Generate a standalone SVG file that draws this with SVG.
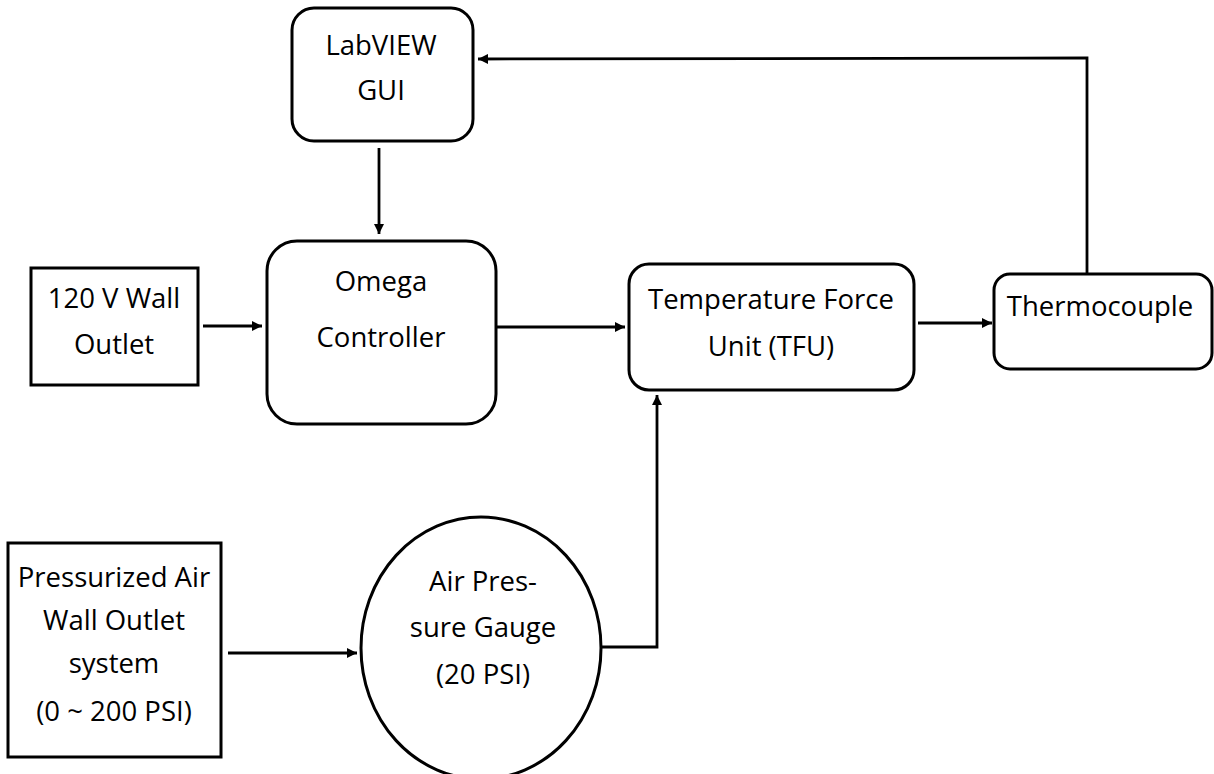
<svg xmlns="http://www.w3.org/2000/svg" width="1214" height="774" viewBox="0 0 1214 774">
<style>
.box{fill:#fff;stroke:#000;stroke-width:3}
.lbl{font-family:"Open Sans","Liberation Sans",sans-serif;font-size:27.5px;fill:#000;text-anchor:middle}
.conn{fill:none;stroke:#000;stroke-width:2.8}
</style>
<defs>
<marker id="arr" viewBox="0 0 10 10" refX="10" refY="5" markerWidth="12" markerHeight="10" markerUnits="userSpaceOnUse" orient="auto">
<path d="M0,0 L10,5 L0,10 z" fill="#000"/>
</marker>
</defs>
<rect width="1214" height="774" fill="#fff"/>
<g id="connectors">
<line class="conn" x1="379" y1="148" x2="379" y2="234" marker-end="url(#arr)"/>
<line class="conn" x1="203" y1="326" x2="262" y2="326" marker-end="url(#arr)"/>
<line class="conn" x1="497" y1="327" x2="625" y2="327" marker-end="url(#arr)"/>
<line class="conn" x1="918" y1="323" x2="992" y2="323" marker-end="url(#arr)"/>
<polyline class="conn" points="1087,273 1087,58 478,59" marker-end="url(#arr)"/>
<line class="conn" x1="228" y1="653" x2="357" y2="653" marker-end="url(#arr)"/>
<polyline class="conn" points="602,647 657,647 657,395" marker-end="url(#arr)"/>
</g>
<g id="labview">
<rect class="box" x="292" y="8" width="181" height="133" rx="22"/>
<text class="lbl" x="381" y="55">LabVIEW</text>
<text class="lbl" x="381" y="100">GUI</text>
</g>
<g id="omega">
<rect class="box" x="267" y="241" width="229" height="183" rx="30"/>
<text class="lbl" x="381" y="291">Omega</text>
<text class="lbl" x="381" y="347">Controller</text>
</g>
<g id="wall120">
<rect class="box" x="31" y="268" width="167" height="117"/>
<text class="lbl" x="114" y="308">120 V Wall</text>
<text class="lbl" x="114" y="354">Outlet</text>
</g>
<g id="tfu">
<rect class="box" x="629" y="264" width="285" height="126" rx="20"/>
<text class="lbl" x="771" y="309">Temperature Force</text>
<text class="lbl" x="771" y="356">Unit (TFU)</text>
</g>
<g id="thermocouple">
<rect class="box" x="994" y="274" width="218" height="95" rx="16"/>
<text class="lbl" x="1100" y="316">Thermocouple</text>
</g>
<g id="pressurized">
<rect class="box" x="8" y="543" width="213" height="214"/>
<text class="lbl" x="114" y="587">Pressurized Air</text>
<text class="lbl" x="114" y="630">Wall Outlet</text>
<text class="lbl" x="114" y="673">system</text>
<text class="lbl" x="114" y="721">(0 ~ 200 PSI)</text>
</g>
<g id="gauge">
<ellipse class="box" cx="481" cy="648" rx="120" ry="131"/>
<text class="lbl" x="483" y="591">Air Pres-</text>
<text class="lbl" x="483" y="637">sure Gauge</text>
<text class="lbl" x="483" y="684">(20 PSI)</text>
</g>
</svg>
